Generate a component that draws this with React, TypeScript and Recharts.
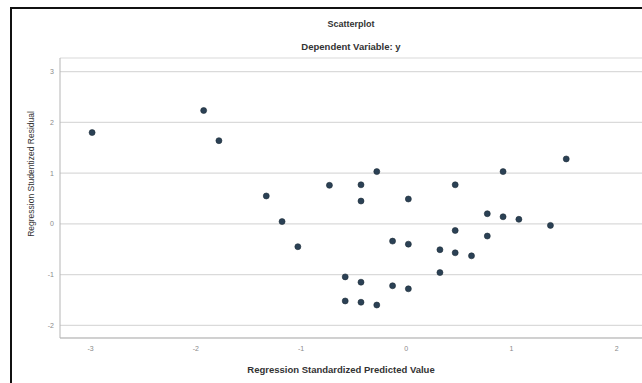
import { ScatterChart, Scatter, XAxis, YAxis, CartesianGrid } from "recharts";

// Regression diagnostics scatter: standardized predicted value vs studentized residual.
const predicted = [
  -2.985, -1.925, -1.78, -1.33, -1.18, -1.03, -0.73, -0.43, -0.28, -0.43, 0.02,
  0.465, 0.92, 1.52, 0.77, 0.92, 1.07, 1.37, 0.465, 0.77, -0.13, 0.02, 0.32,
  0.465, 0.62, 0.32, -0.58, -0.43, -0.13, 0.02, -0.58, -0.43, -0.28,
];
const residual = [
  1.8, 2.235, 1.64, 0.55, 0.045, -0.45, 0.76, 0.77, 1.03, 0.45, 0.49, 0.77, 1.03,
  1.28, 0.2, 0.14, 0.09, -0.03, -0.13, -0.24, -0.34, -0.4, -0.51, -0.57, -0.63,
  -0.96, -1.045, -1.15, -1.22, -1.28, -1.52, -1.545, -1.6,
];
const xTicks = [-3, -2, -1, 0, 1, 2];
const yTicks = [-2, -1, 0, 1, 2, 3];

const title = "Scatterplot";
const subtitle = "Dependent Variable: y";
const xTitle = "Regression Standardized Predicted Value";
const yTitle = "Regression Studentized Residual";

const points = predicted.map((x, i) => ({ x, y: residual[i] }));

const font = '"Liberation Sans", Arial, sans-serif';
const tickStyle = { fontSize: 7, fill: "#8a8a8a", fontFamily: font };

export default function App() {
  return (
    <div
      style={{
        position: "absolute",
        left: 0,
        top: 0,
        width: 642,
        height: 383,
        overflow: "hidden",
        background: "#fff",
        fontFamily: font,
      }}
    >
      <div
        style={{
          position: "absolute",
          left: 10,
          top: 7,
          width: 700,
          height: 420,
          border: "2px solid #111",
        }}
      />
      <div style={{ position: "absolute", left: 60, width: 582, top: 19, textAlign: "center", fontSize: 9, fontWeight: "bold", color: "#333" }}>
        {title}
      </div>
      <div style={{ position: "absolute", left: 60, width: 582, top: 41, textAlign: "center", fontSize: 9.5, fontWeight: "bold", color: "#333" }}>
        {subtitle}
      </div>
      <div style={{ position: "absolute", left: 141, width: 400, top: 364, textAlign: "center", fontSize: 9.5, fontWeight: "bold", color: "#333" }}>
        {xTitle}
      </div>
      <div
        style={{
          position: "absolute",
          left: 31 - 100,
          width: 200,
          top: 174 - 6,
          height: 12,
          lineHeight: "12px",
          textAlign: "center",
          fontSize: 8.5,
          color: "#333",
          transform: "rotate(-90deg)",
        }}
      >
        {yTitle}
      </div>
      <div style={{ position: "absolute", left: 0, top: 0 }}>
        <ScatterChart width={642} height={383} margin={{ top: 58, right: 0, bottom: 15, left: 0 }}>
          <CartesianGrid horizontal vertical={false} stroke="#dadada" strokeWidth={1.2} />
          <XAxis
            type="number"
            dataKey="x"
            domain={[-3.29, 2.24]}
            ticks={xTicks}
            allowDataOverflow
            height={30}
            tickSize={0}
            tickMargin={8}
            tick={tickStyle}
            stroke="#b5b5b5"
          />
          <YAxis
            type="number"
            dataKey="y"
            domain={[-2.25, 3.27]}
            ticks={yTicks}
            allowDataOverflow
            width={60}
            tickSize={0}
            tickMargin={6}
            tick={tickStyle}
            stroke="#b5b5b5"
          />
          <Scatter
            data={points}
            fill="#2b4155"
            stroke="#1c2b38"
            strokeWidth={0.6}
            shape={(p: any) => <circle cx={p.cx} cy={p.cy} r={3} fill="#2b4155" stroke="#1c2b38" strokeWidth={0.6} />}
            isAnimationActive={false}
          />
        </ScatterChart>
      </div>
    </div>
  );
}
